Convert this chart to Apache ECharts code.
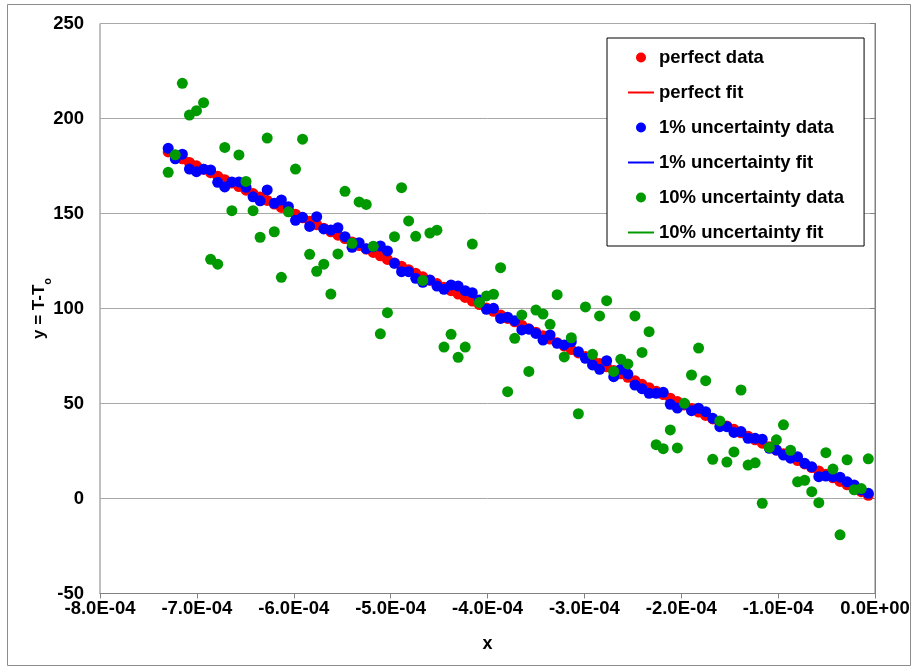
<!DOCTYPE html>
<html>
<head>
<meta charset="utf-8">
<script src="https://cdn.jsdelivr.net/npm/echarts@6/dist/echarts.min.js"></script>
<style>
  html, body { margin: 0; padding: 0; background: #fff; }
  #chart { width: 917px; height: 672px; }
</style>
</head>
<body>
<div id="chart"></div>
<script>
// x values shared by all three data sets
var xs = [
  -7.296e-4, -7.223e-4, -7.150e-4, -7.077e-4, -7.004e-4, -6.931e-4, -6.858e-4, -6.785e-4, -6.712e-4, -6.639e-4,
  -6.566e-4, -6.493e-4, -6.420e-4, -6.347e-4, -6.274e-4, -6.201e-4, -6.128e-4, -6.055e-4, -5.982e-4, -5.909e-4,
  -5.836e-4, -5.763e-4, -5.690e-4, -5.617e-4, -5.544e-4, -5.471e-4, -5.398e-4, -5.325e-4, -5.252e-4, -5.179e-4,
  -5.106e-4, -5.033e-4, -4.960e-4, -4.887e-4, -4.814e-4, -4.741e-4, -4.668e-4, -4.595e-4, -4.522e-4, -4.449e-4,
  -4.376e-4, -4.303e-4, -4.230e-4, -4.157e-4, -4.084e-4, -4.011e-4, -3.938e-4, -3.865e-4, -3.792e-4, -3.719e-4,
  -3.646e-4, -3.573e-4, -3.500e-4, -3.427e-4, -3.354e-4, -3.281e-4, -3.208e-4, -3.135e-4, -3.062e-4, -2.989e-4,
  -2.916e-4, -2.843e-4, -2.770e-4, -2.697e-4, -2.624e-4, -2.551e-4, -2.478e-4, -2.405e-4, -2.332e-4, -2.259e-4,
  -2.186e-4, -2.113e-4, -2.040e-4, -1.967e-4, -1.894e-4, -1.821e-4, -1.748e-4, -1.675e-4, -1.602e-4, -1.529e-4,
  -1.456e-4, -1.383e-4, -1.310e-4, -1.237e-4, -1.164e-4, -1.091e-4, -1.018e-4, -0.945e-4, -0.872e-4, -0.799e-4,
  -0.726e-4, -0.653e-4, -0.580e-4, -0.507e-4, -0.434e-4, -0.361e-4, -0.288e-4, -0.215e-4, -0.142e-4, -0.069e-4
];

var perfectY = [
  182.4, 180.6, 178.8, 176.9, 175.1, 173.3, 171.5, 169.6, 167.8, 166.0,
  164.2, 162.3, 160.5, 158.7, 156.9, 155.0, 153.2, 151.4, 149.6, 147.7,
  145.9, 144.1, 142.3, 140.4, 138.6, 136.8, 135.0, 133.1, 131.3, 129.5,
  127.7, 125.8, 124.0, 122.2, 120.4, 118.5, 116.7, 114.9, 113.1, 111.2,
  109.4, 107.6, 105.8, 103.9, 102.1, 100.3, 98.5, 96.6, 94.8, 93.0,
  91.2, 89.3, 87.5, 85.7, 83.9, 82.0, 80.2, 78.4, 76.6, 74.7,
  72.9, 71.1, 69.3, 67.4, 65.6, 63.8, 62.0, 60.1, 58.3, 56.5,
  54.7, 52.8, 51.0, 49.2, 47.4, 45.5, 43.7, 41.9, 40.1, 38.2,
  36.4, 34.6, 32.8, 30.9, 29.1, 27.3, 25.5, 23.6, 21.8, 20.0,
  18.2, 16.3, 14.5, 12.7, 10.9, 9.0, 7.2, 5.4, 3.6, 1.7
];

var onePctY = [
  184.3, 178.8, 181.2, 173.4, 172.0, 173.3, 172.9, 166.4, 164.0, 166.6,
  166.6, 163.8, 158.8, 156.7, 162.4, 155.4, 157.1, 153.6, 146.4, 148.0,
  143.2, 148.3, 141.9, 141.3, 142.5, 137.8, 132.2, 134.6, 131.5, 132.5,
  132.9, 130.3, 123.8, 119.4, 119.4, 115.9, 113.8, 115.0, 111.8, 110.1,
  112.4, 111.8, 109.4, 108.3, 104.5, 99.6, 100.1, 94.8, 95.4, 93.6,
  88.7, 89.1, 86.9, 83.4, 86.1, 81.7, 80.8, 82.5, 77.3, 73.8,
  70.3, 68.0, 72.5, 64.1, 68.0, 65.5, 59.7, 57.8, 55.4, 55.4,
  55.9, 49.6, 47.6, 49.7, 46.2, 47.5, 45.7, 42.2, 37.8, 37.8,
  34.8, 35.2, 31.7, 31.7, 31.2, 26.4, 25.5, 22.9, 21.2, 22.0,
  18.5, 16.7, 11.5, 11.8, 11.5, 11.2, 8.8, 7.1, 4.5, 2.7
];

var tenPctY = [
  171.7, 180.9, 218.5, 201.8, 204.1, 208.3, 125.9, 123.3, 184.8, 151.5,
  180.8, 166.9, 151.5, 137.5, 189.7, 140.4, 116.4, 150.9, 173.4, 189.1,
  128.5, 119.6, 123.3, 107.6, 128.7, 161.7, 134.3, 156.1, 154.8, 132.7,
  86.7, 97.8, 137.8, 163.6, 146.1, 138.0, 114.8, 139.7, 141.2, 79.7,
  86.4, 74.3, 79.7, 133.9, 103.1, 106.6, 107.5, 121.5, 56.2, 84.3,
  96.6, 66.9, 99.2, 97.1, 91.7, 107.3, 74.5, 84.6, 44.6, 100.8,
  75.9, 96.1, 104.1, 66.9, 73.3, 70.8, 96.1, 76.9, 87.8, 28.3,
  26.2, 36.1, 26.6, 50.1, 65.0, 79.2, 62.0, 20.6, 40.8, 19.2,
  24.5, 57.1, 17.6, 18.8, -2.5, 26.9, 30.9, 38.8, 25.4, 8.8,
  9.6, 3.6, -2.2, 24.1, 15.5, -19.1, 20.4, 4.6, 5.2, 20.9
];

// fitted lines, end points
var fitX = [-7.296e-4, -0.069e-4];
var perfectFitY = [182.4, 1.7];
var onePctFitY = [183.0, 1.9];
var tenPctFitY = [184.0, 2.4];

var names = ['perfect data', 'perfect fit', '1% uncertainty data', '1% uncertainty fit',
  '10% uncertainty data', '10% uncertainty fit'];

function pairs(xArr, yArr) {
  return xArr.map(function (x, i) { return [x, yArr[i]]; });
}

function fmtX(v) {
  var s = Number(v).toExponential(1).toUpperCase();
  return s.replace(/E([+-])(\d)$/, 'E$10$2');
}

var dom = document.getElementById('chart');
var myChart = echarts.init(dom, null, { renderer: 'canvas' });

var font = '"Liberation Sans", Arial, sans-serif';
var lblSize = 18.5;

var option = {
  animation: false,
  backgroundColor: '#fff',
  textStyle: { fontFamily: font },
  graphic: [{
    type: 'rect',
    shape: { x: 7.5, y: 4.5, width: 903, height: 661 },
    style: { fill: 'none', stroke: '#8c8c8c', lineWidth: 1 },
    silent: true
  }],
  grid: {
    left: 100, right: 42, top: 23.5, bottom: 78.5,
    show: true, borderColor: '#808080', borderWidth: 1
  },
  legend: {
    orient: 'vertical',
    left: 607, top: 38,
    padding: [10, 20, 4, 20],
    itemGap: 16,
    itemWidth: 26,
    itemHeight: 10,
    backgroundColor: '#fff',
    borderColor: '#000',
    borderWidth: 1,
    borderRadius: 0,
    textStyle: { fontFamily: font, fontSize: 18.5, fontWeight: 'bold', color: '#000', lineHeight: 19 },
    data: [
      { name: names[0], icon: 'circle' },
      { name: names[1], itemStyle: { opacity: 0 } },
      { name: names[2], icon: 'circle' },
      { name: names[3], itemStyle: { opacity: 0 } },
      { name: names[4], icon: 'circle' },
      { name: names[5], itemStyle: { opacity: 0 } }
    ]
  },
  xAxis: {
    type: 'value',
    min: -8e-4, max: 0, interval: 1e-4,
    name: 'x', nameLocation: 'middle', nameGap: 42,
    nameTextStyle: { fontFamily: font, fontSize: 18, fontWeight: 'bold', color: '#000' },
    axisLine: { onZero: false, lineStyle: { color: '#808080' } },
    axisTick: { show: true, length: 5, lineStyle: { color: '#808080' } },
    axisLabel: { formatter: fmtX, margin: 6, fontFamily: font, fontSize: lblSize, fontWeight: 'bold', color: '#000' },
    splitLine: { show: false }
  },
  yAxis: {
    type: 'value',
    min: -50, max: 250, interval: 50,
    name: '{a|y = T-T}{b|o}', nameLocation: 'middle', nameGap: 51, nameMoveOverlap: false,
    nameTextStyle: {
      rich: {
        a: { fontFamily: font, fontSize: 17, fontWeight: 'bold', color: '#000', lineHeight: 20 },
        b: { fontFamily: font, fontSize: 11, fontWeight: 'bold', color: '#000', lineHeight: 20, verticalAlign: 'bottom', padding: [0, 0, -4, 0] }
      }
    },
    axisLine: { show: true, lineStyle: { color: '#808080' } },
    axisTick: { show: true, length: 5, lineStyle: { color: '#808080' } },
    axisLabel: { margin: 16, fontFamily: font, fontSize: lblSize, fontWeight: 'bold', color: '#000' },
    splitLine: { show: true, lineStyle: { color: '#a8a8a8', width: 1 } }
  },
  series: [
    { name: names[1], type: 'line', z: 1, data: pairs(fitX, perfectFitY), symbol: 'none',
      lineStyle: { color: '#ff0000', width: 2.5 }, itemStyle: { color: '#ff0000' } },
    { name: names[3], type: 'line', z: 1, data: pairs(fitX, onePctFitY), symbol: 'none',
      lineStyle: { color: '#0000ff', width: 2.5 }, itemStyle: { color: '#0000ff' } },
    { name: names[5], type: 'line', z: 1, data: pairs(fitX, tenPctFitY), symbol: 'none',
      lineStyle: { color: '#009a00', width: 2.5 }, itemStyle: { color: '#009a00' } },
    { name: names[0], type: 'scatter', z: 3, data: pairs(xs, perfectY), symbol: 'circle', symbolSize: 11,
      itemStyle: { color: '#ff0000', opacity: 1 } },
    { name: names[2], type: 'scatter', z: 3, data: pairs(xs, onePctY), symbol: 'circle', symbolSize: 11,
      itemStyle: { color: '#0000ff', opacity: 1 } },
    { name: names[4], type: 'scatter', z: 3, data: pairs(xs, tenPctY), symbol: 'circle', symbolSize: 11,
      itemStyle: { color: '#009a00', opacity: 1 } }
  ]
};

myChart.setOption(option);
window.addEventListener('resize', myChart.resize);
</script>
</body>
</html>
